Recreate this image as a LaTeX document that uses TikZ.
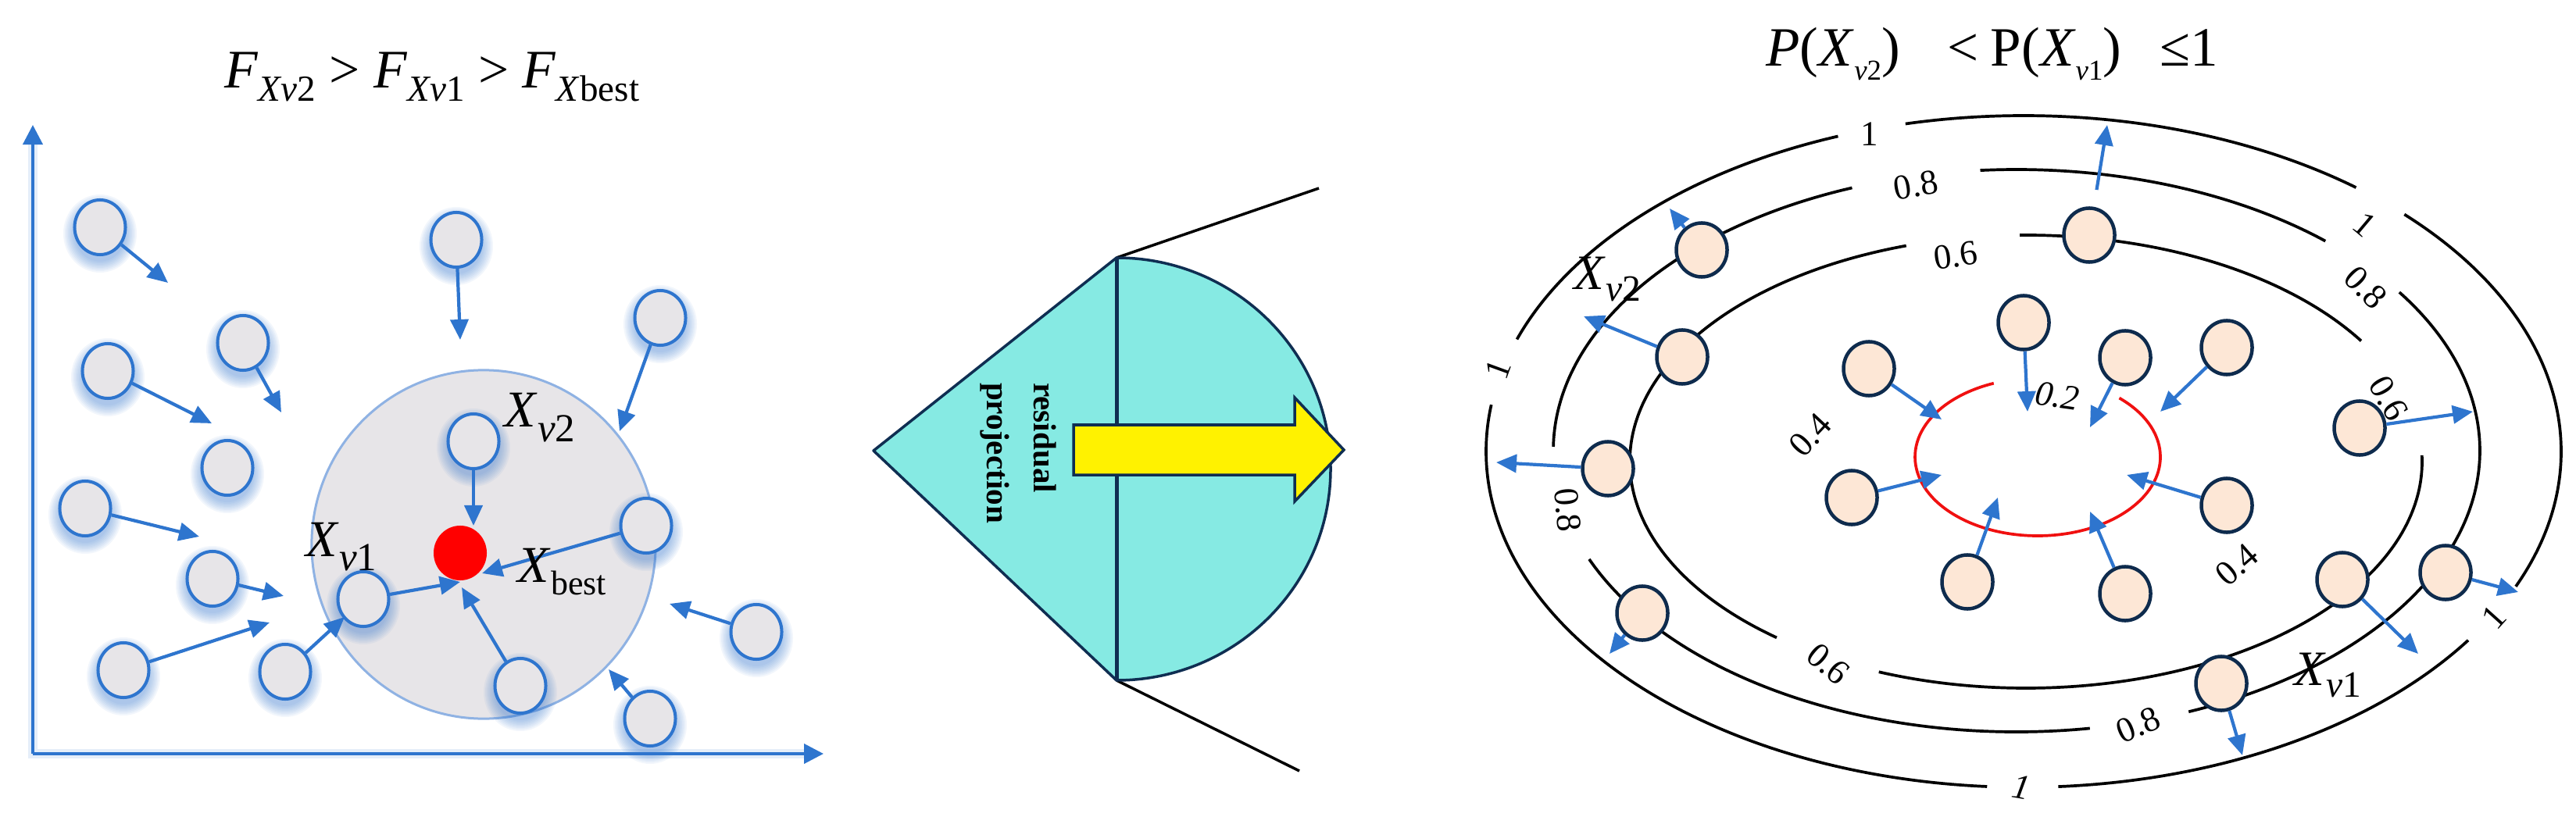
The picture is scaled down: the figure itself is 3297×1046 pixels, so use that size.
\documentclass[tikz,border=0pt]{standalone}
\usepackage{fontspec}
\setmainfont{Liberation Serif}
\usetikzlibrary{arrows.meta,shapes.geometric}
\definecolor{gblue}{HTML}{2E75CE}
\definecolor{gfill}{HTML}{E7E5E8}
\definecolor{bigedge}{HTML}{8FB2E3}
\definecolor{peach}{HTML}{FDE7D6}
\definecolor{navy}{HTML}{0E2B4D}
\definecolor{cyanfill}{HTML}{86EAE3}
\definecolor{shapeedge}{HTML}{0F2E52}
\definecolor{ringred}{HTML}{F01010}
\newcommand\sbx[3]{\raisebox{-#1}{\fontsize{#2}{#2}\selectfont #3}}
\newcommand\gnode[3]{%
  \foreach \k in {1,...,8}{\fill[gblue, opacity=0.06] (#2,#3+8) ellipse[x radius=31+2*\k, y radius=34+2*\k];}
  \node[gcirc] (#1) at (#2,#3) {};}
\newcommand\earc[6]{\draw[ring] (#1,#2) ++(#5:#3 and #4) arc[start angle=#5, end angle=#6, x radius=#3, y radius=#4];}
\tikzset{
 gcirc/.style={ellipse, draw=gblue, fill=gfill, line width=0.04cm, minimum width=0.65cm, minimum height=0.70cm, inner sep=0pt},
 pcirc/.style={ellipse, draw=navy, fill=peach, line width=0.045cm, minimum width=0.65cm, minimum height=0.69cm, inner sep=0pt},
 barrow/.style={draw=gblue, line width=0.042cm, -{Triangle[length=0.26cm,width=0.23cm]}},
 axisarrow/.style={draw=gblue, line width=0.04cm, -{Triangle[length=0.25cm,width=0.25cm]}},
 ring/.style={line width=0.037cm, black},
 lab/.style={inner sep=0pt, font=\fontsize{18.8pt}{20pt}\selectfont},
 rxlab/.style={inner sep=0pt, font=\fontsize{18pt}{20pt}\selectfont},
 rlab/.style={inner sep=0pt, font=\fontsize{12.8pt}{14pt}\selectfont},
}
\begin{document}
\begin{tikzpicture}[x=0.01cm, y=-0.01cm]
\fill[white] (0,0) rectangle (3297,1046);
\useasboundingbox (0,0) rectangle (3297,1046);

% ===================== LEFT PANEL =====================
\node[anchor=base, inner sep=0pt, font=\fontsize{19.8pt}{22pt}\selectfont] (ltitle) at (553,113)
  {\textit{F}\sbx{4.8pt}{13.4pt}{\textit{Xv}2} > \textit{F}\sbx{4.8pt}{13.4pt}{\textit{Xv}1} > \textit{F}\sbx{4.8pt}{13.4pt}{\textit{X}best}};

\coordinate (origin) at (42,965);
\coordinate (ytip) at (42,160);
\coordinate (xtip) at (1054,965);
\draw[gblue, opacity=0.12, line width=0.12cm] (42,175) -- (origin) -- (1040,965);
\draw[axisarrow] (origin) -- (ytip);
\draw[axisarrow] (origin) -- (xtip);

\node[ellipse, draw=bigedge, fill=gfill, line width=0.03cm, minimum width=4.40cm, minimum height=4.46cm, inner sep=0pt] (big) at (619,697) {};

\gnode{A}{128}{291}
\gnode{B}{584}{307}
\gnode{C}{311}{439}
\gnode{D}{138}{475}
\gnode{E}{845}{407}
\gnode{F}{291}{599}
\gnode{G}{606}{565}
\gnode{H}{109}{651}
\gnode{I}{827}{673}
\gnode{J}{272}{741}
\gnode{K}{465}{767}
\gnode{L}{968}{809}
\gnode{M}{158}{858}
\gnode{N}{365}{860}
\gnode{O}{666}{878}
\gnode{P}{832}{920}

\node[ellipse, fill=red, minimum width=0.68cm, minimum height=0.70cm, inner sep=0pt] (best) at (589,708) {};

\coordinate (tA) at (215,362);
\coordinate (tB) at (589,435);
\coordinate (tC) at (360,528);
\coordinate (tD) at (271,542);
\coordinate (tE) at (793,552);
\coordinate (tG) at (606,673);
\coordinate (tH) at (255,687);
\coordinate (tI) at (617,734);
\coordinate (tJ) at (363,763);
\coordinate (tK) at (589,745);
\coordinate (tL) at (857,773);
\coordinate (tM) at (345,797);
\coordinate (tN) at (441,790);
\coordinate (tO) at (591,752);
\coordinate (tP) at (779,857);
\foreach \n in {A,B,C,D,E,G,H,I,J,K,L,M,N,O,P}{\draw[barrow] (\n) -- (t\n);}

\node[lab, anchor=base west] (lxv2) at (645,547) {\textit{X}\sbx{5.4pt}{14.5pt}{\textit{v}2}};
\node[lab, anchor=base west] (lxv1) at (391,712) {\textit{X}\sbx{5.4pt}{14.5pt}{\textit{v}1}};
\node[lab, anchor=base west] (lxb) at (662,745) {\textit{X}\sbx{4.6pt}{12.5pt}{best}};

% ===================== MIDDLE PANEL =====================
\coordinate (ml) at (1118,577);
\coordinate (mt) at (1429,330);
\coordinate (mb) at (1429,871);
\coordinate (mtr) at (1688,241);
\coordinate (mbr) at (1663,987);
\draw[black, line width=0.035cm] (mt) -- (mtr);
\draw[black, line width=0.035cm] (mb) -- (mbr);
\filldraw[fill=cyanfill, draw=shapeedge, line width=0.035cm, line join=round]
  (ml) -- (mt) arc[start angle=-90, end angle=90, x radius=274, y radius=270.5] -- cycle;
\draw[shapeedge, line width=0.05cm] (mt) -- (mb);
\node[rotate=-90, align=left, inner sep=0pt, font=\bfseries\fontsize{11.7pt}{17pt}\selectfont] (rp) at (1303,580) {residual\\projection};
\filldraw[fill=yellow, draw=shapeedge, line width=0.035cm, line join=miter]
  (1374,544) -- (1657,544) -- (1657,509) -- (1720,576) -- (1657,642) -- (1657,608) -- (1374,608) -- cycle;

% ===================== RIGHT PANEL =====================
\node[anchor=base, inner sep=0pt, font=\fontsize{20.2pt}{22pt}\selectfont] (rtitle) at (2550,85)
  {\textit{P}(\textit{X}\sbx{5pt}{10.5pt}{\textit{v}2})\hspace{0.85em}<\hspace{0.22em}P(\textit{X}\sbx{5pt}{10.5pt}{\textit{v}1})\hspace{0.7em}≤1};

% ring 1
\earc{2590}{578}{688}{430}{-44.9}{23.7}
\earc{2590}{578}{688}{430}{34.2}{86.3}
\earc{2590}{578}{688}{430}{93.9}{188.0}
\earc{2590}{578}{688}{430}{199.5}{249.8}
\earc{2590}{578}{688}{430}{257.3}{308.2}
% ring 0.8
\earc{2581}{577}{593}{360}{-34.3}{68.2}
\earc{2581}{577}{593}{360}{80.9}{157.3}
\earc{2581}{577}{593}{360}{180.8}{249.2}
\earc{2581}{577}{593}{360}{265.5}{311.8}
% ring 0.6
\earc{2593}{591}{507}{290}{-1.6}{111.8}
\earc{2593}{591}{507}{290}{129.0}{252.4}
\earc{2593}{591}{507}{290}{269.1}{327.8}
% ring 0.2 (red)
\draw[ringred, line width=0.037cm] (2608,585) ++(-48.3:157 and 101) arc[start angle=-48.3, end angle=249, x radius=157, y radius=101];

% ring labels
\node[rlab] (l1a) at (2393,172) {1};
\node[rlab, rotate=-40] (l1b) at (3027,287) {1};
\node[rlab, rotate=70] (l1c) at (1917,473) {1};
\node[rlab, rotate=48] (l1d) at (3192,790) {1};
\node[rlab, rotate=-10] (l1e) at (2587,1008) {\textit{1}};
\node[rlab, rotate=10] (l8a) at (2452,237) {0.8};
\node[rlab, rotate=-45] (l8b) at (3028,368) {0.8};
\node[rlab, rotate=-85] (l8c) at (2007,653) {0.8};
\node[rlab, rotate=23] (l8d) at (2737,928) {0.8};
\node[rlab, rotate=8] (l6a) at (2503,327) {0.6};
\node[rlab, rotate=-60] (l6b) at (3057,510) {0.6};
\node[rlab, rotate=-40] (l6c) at (2340,850) {0.6};
\node[rlab, rotate=-8] (l2) at (2633,507) {\textit{0.2}};
\node[rlab, rotate=47] (l4a) at (2317,557) {0.4};
\node[rlab, rotate=41] (l4b) at (2863,723) {0.4};

% particles
\node[pcirc] (c1) at (2178,320) {};
\node[pcirc] (c2) at (2153,457) {};
\node[pcirc] (c3) at (2058,600) {};
\node[pcirc] (c4) at (2102,785) {};
\node[pcirc] (c5) at (2674,301) {};
\node[pcirc] (c6) at (2590,413) {};
\node[pcirc] (c7) at (2392,472) {};
\node[pcirc] (c8) at (2720,458) {};
\node[pcirc] (c9) at (2850,445) {};
\node[pcirc] (c10) at (2370,637) {};
\node[pcirc] (c11) at (2518,745) {};
\node[pcirc] (c12) at (2720,760) {};
\node[pcirc] (c13) at (2850,647) {};
\node[pcirc] (c14) at (3020,548) {};
\node[pcirc] (c15) at (2998,742) {};
\node[pcirc] (c16) at (3130,733) {};
\node[pcirc] (c17) at (2843,875) {};

\coordinate (r1) at (2137,267);
\coordinate (r2) at (2027,405);
\coordinate (r3) at (1915,592);
\coordinate (r4) at (2060,837);
\coordinate (r5) at (2697,160);
\coordinate (r6) at (2595,527);
\coordinate (r7) at (2485,537);
\coordinate (r8) at (2675,547);
\coordinate (r9) at (2765,527);
\coordinate (r10) at (2485,608);
\coordinate (r11) at (2557,637);
\coordinate (r12) at (2675,655);
\coordinate (r13) at (2722,608);
\coordinate (r14) at (3165,527);
\coordinate (r15) at (3095,837);
\coordinate (r16) at (3223,758);
\coordinate (r17) at (2870,967);
\foreach \n in {1,2,3,4,6,7,8,9,10,11,12,13,14,15,16,17}{\draw[barrow] (c\n) -- (r\n);}
\draw[barrow, shorten <=0.22cm] (c5) -- (r5);

\node[rxlab, anchor=base west] (rxv2) at (2014,370) {\textit{X}\sbx{4.3pt}{13.5pt}{\textit{v}2}};
\node[rxlab, anchor=base west] (rxv1) at (2936,877) {\textit{X}\sbx{4.3pt}{13.5pt}{\textit{v}1}};
\end{tikzpicture}
\end{document}
